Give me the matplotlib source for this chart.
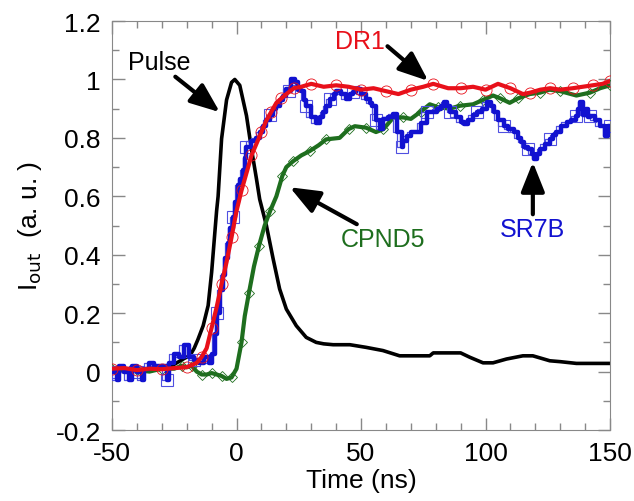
import matplotlib
matplotlib.use("Agg")
import matplotlib.pyplot as plt
from matplotlib.ticker import MultipleLocator, FuncFormatter

plt.rcParams['font.family'] = ['Liberation Sans', 'DejaVu Sans']
plt.rcParams['axes.unicode_minus'] = False

# Pulse (black)
pulse_t = [-50, -45, -40, -35, -30, -27, -24, -21, -18.7, -17, -15.5, -13.4, -11.4, -10, -8.7, -8, -7.4,
           -6, -4, -2, -0.7, 1.3, 4, 6, 8, 9.3, 12, 14.7, 17.3, 20, 24, 28, 32, 35, 38.8, 45.5, 52,
           58.8, 65.5, 70, 77.6, 79, 85, 90, 93.7, 99, 103, 108.4, 115, 119, 125.8, 130, 136.5, 143, 150]
pulse_y = [0.008, 0.006, 0.008, 0.007, 0.01, 0.015, 0.03, 0.045, 0.055, 0.08, 0.11, 0.157, 0.226, 0.34,
           0.477, 0.55, 0.6, 0.797, 0.93, 0.99, 1.0, 0.98, 0.876, 0.762, 0.66, 0.59, 0.5, 0.386, 0.283,
           0.214, 0.157, 0.117, 0.1, 0.095, 0.092, 0.092, 0.083, 0.072, 0.054, 0.054, 0.054, 0.064,
           0.064, 0.064, 0.049, 0.03, 0.03, 0.043, 0.054, 0.054, 0.037, 0.034, 0.028, 0.028, 0.028]

# DR1 (red)
dr1_t = [-50, -45, -40, -35, -30, -25, -20, -16, -14, -12, -10, -8, -6, -4, -2, 0, 2, 4, 6, 8, 10,
         12, 14, 16, 18, 20, 23, 26, 30, 35, 40, 45, 50, 55, 60, 65, 70, 75, 79, 85, 90, 95, 100,
         105, 110, 115, 118, 122, 126, 130, 135, 139, 143, 147, 150]
dr1_y = [0.01, 0.012, 0.005, 0.01, 0.008, 0.012, 0.015, 0.03, 0.05, 0.08, 0.15, 0.22, 0.3, 0.375,
         0.46, 0.55, 0.62, 0.68, 0.74, 0.78, 0.82, 0.86, 0.89, 0.92, 0.935, 0.95, 0.97, 0.975, 0.985,
         0.975, 0.98, 0.975, 0.965, 0.97, 0.96, 0.95, 0.965, 0.975, 0.985, 0.97, 0.97, 0.975, 0.965,
         0.985, 0.97, 0.95, 0.955, 0.965, 0.97, 0.965, 0.97, 0.975, 0.98, 0.985, 0.995]

# CPND5 (green)
cpnd5_t = [-50, -45, -40, -35, -30, -25, -22, -20, -18, -16, -14, -12, -10, -8, -6, -4, -2, 0, 2,
           3.3, 5, 7, 9, 11.3, 13.5, 16, 18.4, 20, 22.7, 26, 29.4, 33, 36, 41.4, 45, 47.5, 52, 56,
           59, 63, 67, 70, 74, 77.6, 81, 85.6, 89.7, 95, 99, 103, 106, 109.7, 113, 117.7, 122,
           125.7, 130, 136.5, 142, 146, 150]
cpnd5_y = [0.01, 0.0, 0.005, 0.0, 0.01, 0.01, 0.02, 0.015, 0.02, 0.0, -0.01, -0.01, -0.005, -0.01,
           -0.015, -0.025, -0.02, 0.01, 0.1, 0.19, 0.27, 0.36, 0.43, 0.5, 0.55, 0.6, 0.67, 0.7, 0.72,
           0.74, 0.755, 0.775, 0.795, 0.8, 0.83, 0.84, 0.835, 0.82, 0.83, 0.87, 0.87, 0.865, 0.89,
           0.915, 0.905, 0.9, 0.91, 0.915, 0.93, 0.945, 0.935, 0.92, 0.935, 0.95, 0.955, 0.965, 0.96,
           0.945, 0.955, 0.97, 0.98]

# SR7B (blue)
sr7b_t = [-50, -48, -47, -45, -43, -42, -40, -38, -37, -35, -33, -30, -28, -27, -25, -23, -21, -19,
          -17, -15, -13, -11, -10, -8.5, -8, -6.5, -5.4, -4.5, -3.4, -2.5, -1.4, -0.5, 0.6, 1.5, 2.6,
          3.3, 4, 6, 8, 9.5, 10.6, 12, 13.5, 14.7, 16, 17.5, 18.7, 20, 21, 22, 23.5, 24.5, 26, 27,
          28, 30, 32, 33.5, 34.7, 36, 37.4, 39, 40, 42, 44, 45.5, 46.7, 48, 50, 52, 53.5, 54.6, 56,
          57.5, 59, 61, 63, 64.4, 66.4, 67, 68.5, 70, 72.5, 74, 76.5, 78.5, 80.6, 82, 83.3, 84.5,
          85.9, 88, 90, 91.3, 93, 95, 96.7, 98.5, 100.7, 102, 103.4, 105, 107.4, 109, 111.4, 113,
          114.2, 115.5, 116.9, 118.5, 119.6, 120.5, 122, 124, 126, 127, 128.5, 130.5, 132.6, 134.5,
          136.5, 137, 138, 139, 140.5, 141, 142, 144, 146, 147, 148, 149, 150]
sr7b_y = [0.0, -0.03, 0.02, 0.0, -0.03, 0.02, 0.0, -0.03, 0.01, 0.03, 0.02, 0.02, -0.03, 0.03, 0.06,
          0.05, 0.09, 0.05, 0.04, 0.03, 0.05, 0.03, 0.06, 0.13, 0.2, 0.28, 0.33, 0.39, 0.44, 0.49,
          0.53, 0.58, 0.64, 0.66, 0.69, 0.73, 0.77, 0.79, 0.8, 0.82, 0.84, 0.86, 0.88, 0.9, 0.91,
          0.93, 0.945, 0.967, 0.96, 1.0, 0.99, 0.965, 0.96, 0.93, 0.91, 0.87, 0.85, 0.87, 0.889,
          0.91, 0.933, 0.95, 0.962, 0.95, 0.933, 0.95, 0.956, 0.967, 0.95, 0.933, 0.92, 0.91, 0.86,
          0.83, 0.865, 0.87, 0.882, 0.82, 0.768, 0.79, 0.808, 0.82, 0.82, 0.85, 0.888, 0.89, 0.9,
          0.91, 0.922, 0.91, 0.889, 0.87, 0.855, 0.848, 0.86, 0.88, 0.888, 0.9, 0.922, 0.91, 0.888,
          0.86, 0.842, 0.83, 0.82, 0.8, 0.785, 0.77, 0.762, 0.745, 0.728, 0.745, 0.762, 0.78, 0.797,
          0.81, 0.82, 0.84, 0.854, 0.86, 0.876, 0.9, 0.922, 0.88, 0.9, 0.87, 0.876, 0.86, 0.842,
          0.84, 0.808, 0.84, 0.842]

RED = '#e8101a'
BLUE = '#1212d0'
GREEN = '#1e6e1e'

fig = plt.figure(figsize=(6.34, 5.02), dpi=100)
ax = fig.add_axes([0.1767, 0.1414, 0.7855, 0.8147])

ax.plot(pulse_t, pulse_y, color='black', lw=2.6, zorder=2)

ax.plot(cpnd5_t, cpnd5_y, color=GREEN, lw=0.8, marker='D', markersize=5, mfc='none',
        mec=GREEN, mew=0.6, markevery=2, zorder=3)
ax.plot(cpnd5_t, cpnd5_y, color=GREEN, lw=3, zorder=3)

ax.plot(sr7b_t, sr7b_y, color='#5050e0', lw=0.9, drawstyle='steps-pre', marker='s', markersize=8,
        mfc='none', mec='#5050e0', mew=0.8, markevery=6, zorder=4)
ax.plot(sr7b_t, sr7b_y, color=BLUE, lw=3.2, drawstyle='steps-post', zorder=4)

ax.plot(dr1_t, dr1_y, color=RED, lw=0.8, marker='o', markersize=8, mfc='none', mec=RED,
        mew=0.6, markevery=2, zorder=5)
ax.plot(dr1_t, dr1_y, color=RED, lw=3, zorder=5)

ax.set_xlim(-50, 150)
ax.set_ylim(-0.2, 1.2)
ax.xaxis.set_major_locator(MultipleLocator(50))
ax.xaxis.set_minor_locator(MultipleLocator(10))
ax.yaxis.set_major_locator(MultipleLocator(0.2))
ax.yaxis.set_minor_locator(MultipleLocator(0.1))
ax.yaxis.set_major_formatter(FuncFormatter(lambda v, p: '%g' % round(v, 2)))
ax.tick_params(which='both', direction='in', top=True, right=True, color='#888888',
               labelsize=19, pad=8)
ax.tick_params(which='major', length=9, width=1)
ax.tick_params(which='minor', length=5, width=1)
for s in ax.spines.values():
    s.set_color('#888888')

ax.set_xlabel('Time (ns)', fontsize=19, labelpad=2)
ax.set_ylabel('I$_{\\rm out}$  (a. u. )', fontsize=19, labelpad=8)

arrow = dict(arrowstyle='-|>,head_length=1.0,head_width=0.4', lw=3, color='black',
             shrinkA=0, shrinkB=0)
ax.annotate('Pulse', xy=(-6.7, 0.888), xytext=(-31, 1.06), fontsize=18, ha='center',
            va='center', arrowprops=dict(arrow, relpos=(0.7, 0.0)))
ax.annotate('DR1', xy=(77, 0.995), xytext=(49.5, 1.13), fontsize=18, ha='center',
            va='center', color=RED, arrowprops=dict(arrow, relpos=(1.0, 0.4)))
ax.annotate('CPND5', xy=(21.4, 0.631), xytext=(58.8, 0.454), fontsize=18, ha='center',
            va='center', color=GREEN, arrowprops=dict(arrow, relpos=(0.25, 1.0)))
ax.annotate('SR7B', xy=(119, 0.717), xytext=(119, 0.488), fontsize=18, ha='center',
            va='center', color=BLUE, arrowprops=dict(arrow, relpos=(0.5, 1.0)))

fig.savefig('out.png', dpi=100)
